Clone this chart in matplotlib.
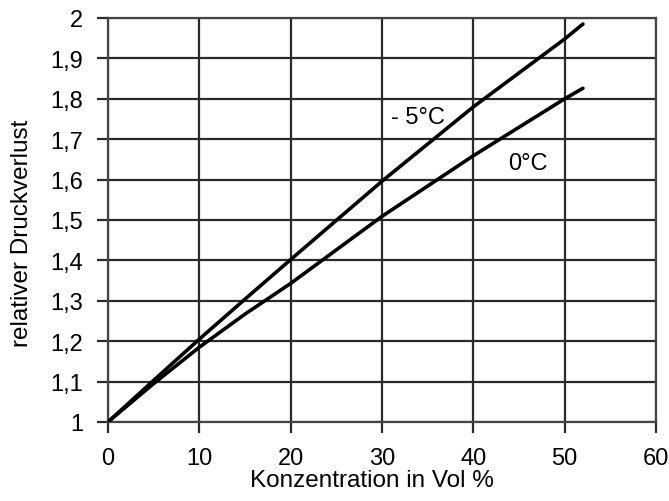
import numpy as np
import matplotlib
matplotlib.use("Agg")
import matplotlib.pyplot as plt

plt.rcParams["font.family"] = ["Liberation Sans", "DejaVu Sans"]

# Konzentration in Vol % and relative pressure loss
konz = [0, 5, 10, 15, 20, 30, 40, 50, 52]
minus5 = [1.0, 1.103, 1.205, 1.304, 1.402, 1.596, 1.78, 1.948, 1.985]
null_grad = [1.0, 1.095, 1.185, 1.267, 1.343, 1.509, 1.659, 1.80, 1.826]

xticks = [0, 10, 20, 30, 40, 50, 60]
yticks = [1.0, 1.1, 1.2, 1.3, 1.4, 1.5, 1.6, 1.7, 1.8, 1.9, 2.0]
ylabels = ["1", "1,1", "1,2", "1,3", "1,4", "1,5", "1,6", "1,7", "1,8", "1,9", "2"]

fig = plt.figure(figsize=(6.69, 5.02), dpi=100)
ax = fig.add_axes([0.1614, 0.1574, 0.8192, 0.8048])

ax.plot(konz, minus5, color="black", lw=2.6, solid_capstyle="round", zorder=3)
ax.plot(konz, null_grad, color="black", lw=2.6, solid_capstyle="round", zorder=3)

ax.text(31.0, 1.755, "- 5°C", fontsize=17, va="center", ha="left")
ax.text(43.8, 1.642, "0°C", fontsize=17, va="center", ha="left")

ax.set_xlim(0, 60)
ax.set_ylim(1, 2)
ax.set_xticks(xticks)
ax.set_yticks(yticks)
ax.set_yticklabels(ylabels)
ax.grid(True, color="#2a2a2a", lw=1.6)
ax.set_axisbelow(True)
for s in ax.spines.values():
    s.set_color("#444444")
    s.set_linewidth(1.6)
ax.tick_params(length=8, width=1.6, color="#2a2a2a", pad=10, labelsize=17)

ax.set_xlabel("Konzentration in Vol %", fontsize=17.5)
ax.set_ylabel("relativer Druckverlust", fontsize=17.5)
ax.xaxis.set_label_coords(0.482, -0.117)
ax.yaxis.set_label_coords(-0.137, 0.47)

fig.savefig("out.png", dpi=100)
